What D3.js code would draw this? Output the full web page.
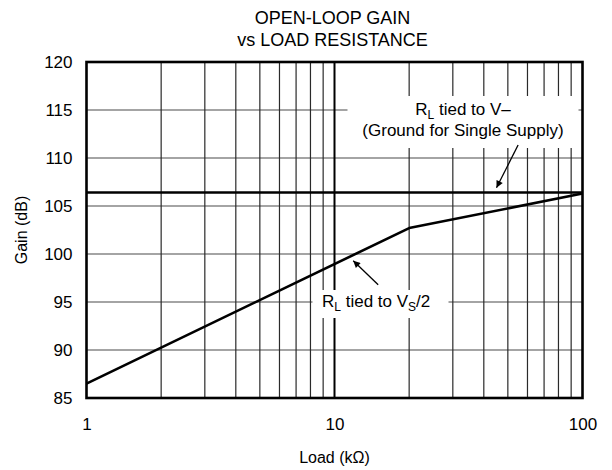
<!DOCTYPE html>
<html>
<head>
<meta charset="utf-8">
<script src="https://cdn.jsdelivr.net/npm/d3@7"></script>
<style>
  html, body { margin: 0; padding: 0; background: #fff; }
  svg { display: block; font-family: "Liberation Sans", Arial, Helvetica, sans-serif; }
</style>
</head>
<body>
<svg id="chart" width="612" height="470"></svg>
<script>
// Open-loop gain vs load resistance
const xTicks = [1, 10, 100];
const xMinorTicks = [2, 3, 4, 5, 6, 7, 8, 9, 20, 30, 40, 50, 60, 70, 80, 90];
const yTicks = [85, 90, 95, 100, 105, 110, 115, 120];

// RL tied to VS/2 (load in kOhm, gain in dB)
const loadVs2 = [1, 20, 100];
const gainVs2 = [86.5, 102.7, 106.3];

// RL tied to V- (ground for single supply) — flat gain
const loadVneg = [1, 100];
const gainVneg = [106.4, 106.4];

const W = 612, H = 470;
const margin = { top: 62, right: 29.5, bottom: 72, left: 86.5 };
const iw = W - margin.left - margin.right;
const ih = H - margin.top - margin.bottom;

const svg = d3.select("#chart");
const g = svg.append("g").attr("transform", `translate(${margin.left},${margin.top})`);

const x = d3.scaleLog().domain([1, 100]).range([0, iw]);
const y = d3.scaleLinear().domain([85, 120]).range([ih, 0]);

// horizontal grid
g.append("g")
  .selectAll("line")
  .data(yTicks.slice(1, -1))
  .join("line")
  .attr("x1", 0).attr("x2", iw)
  .attr("y1", d => y(d)).attr("y2", d => y(d))
  .attr("stroke", "#4a4a4a").attr("stroke-width", 1.1);

// minor vertical grid
g.append("g")
  .selectAll("line")
  .data(xMinorTicks)
  .join("line")
  .attr("x1", d => x(d)).attr("x2", d => x(d))
  .attr("y1", 0).attr("y2", ih)
  .attr("stroke", "#2a2a2a").attr("stroke-width", 1.2);

// decade lines
g.append("g")
  .selectAll("line")
  .data([10])
  .join("line")
  .attr("x1", d => x(d)).attr("x2", d => x(d))
  .attr("y1", 0).attr("y2", ih)
  .attr("stroke", "#000").attr("stroke-width", 2);

// label backgrounds (mask the grid behind annotation text)
const noteA = g.append("g");
noteA.append("rect")
  .attr("x", 261).attr("y", 34).attr("width", 231).attr("height", 52)
  .attr("fill", "#fff");
const noteB = g.append("g");
noteB.append("rect")
  .attr("x", 226).attr("y", 228).attr("width", 136).attr("height", 28)
  .attr("fill", "#fff");

// data lines
const line = d3.line().x(d => x(d[0])).y(d => y(d[1]));
g.append("path")
  .datum(d3.zip(loadVneg, gainVneg))
  .attr("d", line)
  .attr("fill", "none").attr("stroke", "#000").attr("stroke-width", 2.6);
g.append("path")
  .datum(d3.zip(loadVs2, gainVs2))
  .attr("d", line)
  .attr("fill", "none").attr("stroke", "#000").attr("stroke-width", 2.6)
  .attr("stroke-linejoin", "round");

// frame
g.append("rect")
  .attr("x", 0).attr("y", 0).attr("width", iw).attr("height", ih)
  .attr("fill", "none").attr("stroke", "#000").attr("stroke-width", 2.6);

// axes labels
const xAxis = d3.axisBottom(x).tickValues(xTicks).tickFormat(d3.format("d")).tickSize(0).tickPadding(20);
g.append("g").attr("transform", `translate(0,${ih})`).call(xAxis)
  .call(s => s.select(".domain").remove())
  .selectAll("text").attr("font-size", 17).attr("fill", "#000")
  .attr("font-family", "'Liberation Sans', Arial, sans-serif");

const yAxis = d3.axisLeft(y).tickValues(yTicks).tickFormat(d3.format("d")).tickSize(0).tickPadding(14);
g.append("g").call(yAxis)
  .call(s => s.select(".domain").remove())
  .selectAll("text").attr("font-size", 17).attr("fill", "#000")
  .attr("font-family", "'Liberation Sans', Arial, sans-serif");

// arrows
svg.append("defs").append("marker")
  .attr("id", "arrow").attr("viewBox", "0 0 10 10")
  .attr("refX", 10).attr("refY", 5)
  .attr("markerWidth", 10).attr("markerHeight", 7)
  .attr("markerUnits", "userSpaceOnUse")
  .attr("orient", "auto")
  .append("path").attr("d", "M0,0 L10,5 L0,10 Z").attr("fill", "#000");

const arrows = [
  { from: [55, 111.35], to: [45, 106.9] },
  { from: [15.0, 96.8], to: [11.9, 99.3] }
];
g.append("g").selectAll("line").data(arrows).join("line")
  .attr("x1", d => x(d.from[0])).attr("y1", d => y(d.from[1]))
  .attr("x2", d => x(d.to[0])).attr("y2", d => y(d.to[1]))
  .attr("stroke", "#000").attr("stroke-width", 1.3)
  .attr("marker-end", "url(#arrow)");

// annotation text
const t1 = noteA.append("text")
  .attr("x", 376.5).attr("y", 53).attr("text-anchor", "middle")
  .attr("font-size", 17).attr("fill", "#000");
t1.append("tspan").text("R");
t1.append("tspan").attr("font-size", 12).attr("dy", 4).text("L");
t1.append("tspan").attr("dy", -4).text(" tied to V–");
noteA.append("text")
  .attr("x", 376.5).attr("y", 74).attr("text-anchor", "middle")
  .attr("font-size", 17).attr("fill", "#000")
  .text("(Ground for Single Supply)");

const t2 = noteB.append("text")
  .attr("x", 235.5).attr("y", 245)
  .attr("font-size", 17).attr("fill", "#000");
t2.append("tspan").text("R");
t2.append("tspan").attr("font-size", 12).attr("dy", 4).text("L");
t2.append("tspan").attr("dy", -4).text(" tied to V");
t2.append("tspan").attr("font-size", 12).attr("dy", 4).text("S");
t2.append("tspan").attr("dy", -4).text("/2");

// titles
svg.append("text")
  .attr("x", margin.left + iw / 2 - 2).attr("y", 24).attr("text-anchor", "middle")
  .attr("font-size", 18).text("OPEN-LOOP GAIN");
svg.append("text")
  .attr("x", margin.left + iw / 2 - 2).attr("y", 46).attr("text-anchor", "middle")
  .attr("font-size", 18).text("vs LOAD RESISTANCE");

svg.append("text")
  .attr("x", margin.left + iw / 2).attr("y", 463).attr("text-anchor", "middle")
  .attr("font-size", 16).text("Load (kΩ)");
svg.append("text")
  .attr("transform", `translate(27,${margin.top + ih / 2}) rotate(-90)`)
  .attr("text-anchor", "middle")
  .attr("font-size", 16).text("Gain (dB)");
</script>
</body>
</html>
